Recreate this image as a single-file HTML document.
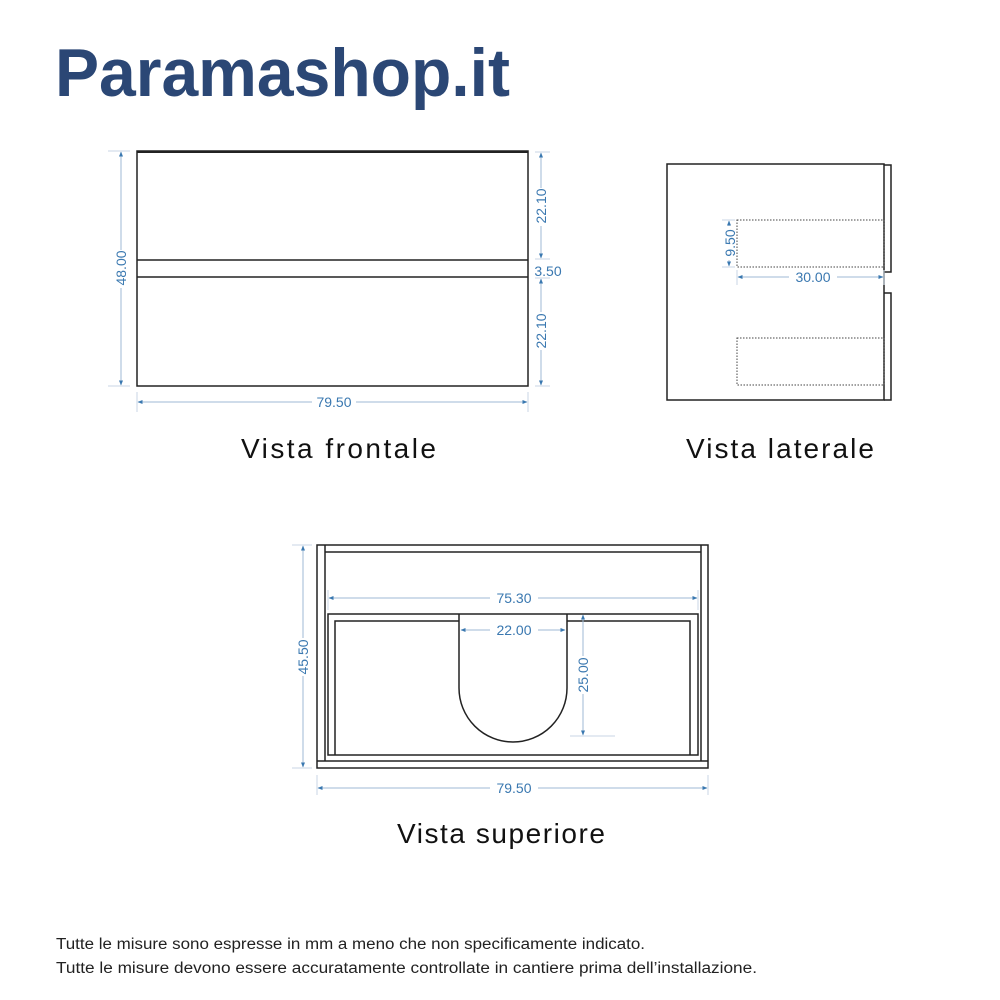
<!DOCTYPE html>
<html><head><meta charset="utf-8"><style>body{margin:0;background:#fff}svg{display:block}</style></head><body>
<svg width="1000" height="1000" viewBox="0 0 1000 1000" xmlns="http://www.w3.org/2000/svg" font-family="Liberation Sans, sans-serif">
<defs>
<marker id="a" viewBox="0 0 10 10" refX="9" refY="5" markerWidth="5" markerHeight="5" orient="auto-start-reverse"><path d="M0,1 L10,5 L0,9z" fill="#3a78b0"/></marker>
</defs>
<text x="55" y="96" font-size="68" font-weight="bold" fill="#2b4775" textLength="455" lengthAdjust="spacingAndGlyphs">Paramashop.it</text>

<g fill="none" stroke="#222" stroke-width="1.5">
<rect x="137" y="151" width="391" height="235"/>
<line x1="137" y1="152" x2="528" y2="152" stroke-width="2"/>
<line x1="137" y1="260" x2="528" y2="260"/>
<line x1="137" y1="277" x2="528" y2="277"/>
<rect x="667" y="164" width="217" height="236"/>
<path d="M884,165 H891 V272 H884 M884,293 H891 V400 H884"/>
<rect x="317" y="545" width="391" height="223"/>
<line x1="325" y1="552" x2="701" y2="552"/>
<path d="M325,545 V761 M701,545 V761 M317,761 H708"/>
<rect x="328" y="614" width="370" height="141"/>
<path d="M335,755 V621 H459 M567,621 H690 V755"/>
<path d="M459,614 V688 A54,54 0 0 0 567,688 V614"/>
</g>
<g fill="none" stroke="#444" stroke-width="1" stroke-dasharray="1.5,1.5">
<rect x="737" y="220" width="147" height="47"/>
<rect x="737" y="338" width="147" height="47"/>
</g>

<g stroke="#c8d6e4" stroke-width="1" fill="none">
<path d="M108,151 H130 M108,386 H130 M535,152 H550 M535,259 H550 M535,278 H550 M535,386 H550 M137,392 V412 M528,392 V412"/>
<path d="M722,220 H735 M722,267 H735 M737,270 V285 M884,270 V285"/>
<path d="M292,545 H312 M292,768 H312 M317,775 V795 M708,775 V795 M328,590 V610 M698,590 V610 M570,736 H615"/>
</g>
<g stroke="#9fbad4" stroke-width="1" fill="none" marker-start="url(#a)" marker-end="url(#a)">
<line x1="121" y1="152" x2="121" y2="385"/>
<line x1="541" y1="153" x2="541" y2="258"/>
<line x1="541" y1="279" x2="541" y2="385"/>
<line x1="138" y1="402" x2="527" y2="402"/>
<line x1="729" y1="221" x2="729" y2="266"/>
<line x1="738" y1="277" x2="883" y2="277"/>
<line x1="303" y1="546" x2="303" y2="767"/>
<line x1="318" y1="788" x2="707" y2="788"/>
<line x1="329" y1="598" x2="697" y2="598"/>
<line x1="461" y1="630" x2="565" y2="630"/>
<line x1="583" y1="615" x2="583" y2="735"/>
</g>
<g fill="#3a78b0" font-size="14" text-anchor="middle">
<g fill="#fff" stroke="none">
<rect x="114" y="250" width="14" height="38"/><rect x="534" y="188" width="14" height="38"/><rect x="534" y="312" width="14" height="38"/>
<rect x="312" y="395" width="44" height="14"/><rect x="722" y="226" width="14" height="34"/><rect x="789" y="270" width="48" height="14"/>
<rect x="296" y="638" width="14" height="38"/><rect x="490" y="781" width="48" height="14"/><rect x="490" y="591" width="48" height="14"/>
<rect x="490" y="623" width="48" height="14"/><rect x="576" y="656" width="14" height="38"/>
</g>
<text transform="translate(126,268) rotate(-90)">48.00</text>
<text transform="translate(546,206) rotate(-90)">22.10</text>
<text transform="translate(546,331) rotate(-90)">22.10</text>
<text x="548" y="276">3.50</text>
<text x="334" y="407">79.50</text>
<text transform="translate(735,243) rotate(-90)">9.50</text>
<text x="813" y="282">30.00</text>
<text transform="translate(308,657) rotate(-90)">45.50</text>
<text x="514" y="793">79.50</text>
<text x="514" y="603">75.30</text>
<text x="514" y="635">22.00</text>
<text transform="translate(588,675) rotate(-90)">25.00</text>
</g>
<g font-size="28" fill="#111">
<text x="241" y="458" textLength="195" lengthAdjust="spacing">Vista frontale</text>
<text x="686" y="458" textLength="188" lengthAdjust="spacing">Vista laterale</text>
<text x="397" y="843" textLength="208" lengthAdjust="spacing">Vista superiore</text>
</g>
<g font-size="15.5" fill="#222">
<text x="56" y="949" textLength="589" lengthAdjust="spacingAndGlyphs">Tutte le misure sono espresse in mm a meno che non specificamente indicato.</text>
<text x="56" y="973" textLength="701" lengthAdjust="spacingAndGlyphs">Tutte le misure devono essere accuratamente controllate in cantiere prima dell’installazione.</text>
</g>
</svg>
</body></html>
